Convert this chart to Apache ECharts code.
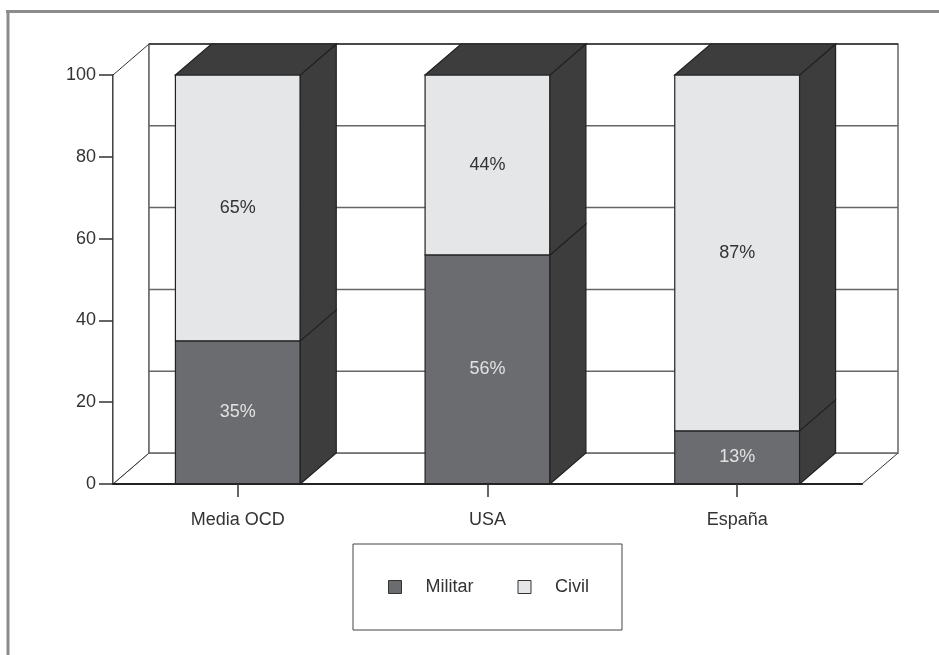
<!DOCTYPE html>
<html>
<head>
<meta charset="utf-8">
<script src="https://cdn.jsdelivr.net/npm/echarts@6/dist/echarts.min.js"></script>
<style>
  html, body { margin: 0; padding: 0; background: #fff; }
  #chart { width: 939px; height: 655px; }
</style>
</head>
<body>
<div id="chart"></div>
<script>
// datos
var categories = ['Media OCD', 'USA', 'España'];
var militar = [35, 56, 13];
var civil = [65, 44, 87];
var seriesNames = ['Militar', 'Civil'];
var yTicks = [0, 20, 40, 60, 80, 100];

// profundidad del efecto 3D (px)
var DX = 36, DY = -31;
var FONT = '"Liberation Sans", Arial, sans-serif';

var chart = echarts.init(document.getElementById('chart'));

// paredes, suelo y lineas de la cuadricula del fondo
function renderWalls(params, api) {
  var cs = params.coordSys;
  var x0 = cs.x, x1 = cs.x + cs.width;
  var yb = api.coord([0, yTicks[0]])[1];
  var yt = api.coord([0, yTicks[yTicks.length - 1]])[1];
  var wall = { fill: '#fff', stroke: '#333', lineWidth: 1 };
  var children = [
    { type: 'polygon', shape: { points: [[x0, yb], [x1, yb], [x1 + DX, yb + DY], [x0 + DX, yb + DY]] }, style: wall },
    { type: 'polygon', shape: { points: [[x0, yt], [x0 + DX, yt + DY], [x0 + DX, yb + DY], [x0, yb]] }, style: wall },
    { type: 'rect', shape: { x: x0 + DX, y: yt + DY, width: cs.width, height: yb - yt }, style: { fill: '#fff', stroke: '#666', lineWidth: 1.5 } }
  ];
  for (var k = 1; k < yTicks.length - 1; k++) {
    var y = api.coord([0, yTicks[k]])[1] + DY;
    children.push({ type: 'line', shape: { x1: x0 + DX, y1: y, x2: x1 + DX, y2: y }, style: { stroke: '#666', lineWidth: 1.5 } });
  }
  // borde superior del fondo
  children.push({ type: 'line', shape: { x1: x0 + DX, y1: yt + DY, x2: x1 + DX, y2: yt + DY }, style: { stroke: '#333', lineWidth: 1.5 } });
  return { type: 'group', children: children };
}

// un tramo de barra apilada en 3D
function makeRenderer(frontColor, textColor, drawTop) {
  return function (params, api) {
    var i = api.value(0);
    var bw = api.size([1, 0])[0] * 0.5;
    var xc = api.coord([i, 0])[0];
    var xl = xc - bw / 2, xr = xc + bw / 2;
    var ya = api.coord([i, api.value(1)])[1];
    var yb = api.coord([i, api.value(2)])[1];
    var edge = '#222';
    var children = [
      { type: 'rect', shape: { x: xl, y: yb, width: bw, height: ya - yb }, style: { fill: frontColor, stroke: edge, lineWidth: 1.2 } },
      { type: 'polygon', shape: { points: [[xr, ya], [xr + DX, ya + DY], [xr + DX, yb + DY], [xr, yb]] }, style: { fill: '#3d3d3d', stroke: edge, lineWidth: 1.2 } }
    ];
    if (drawTop) {
      children.push({ type: 'polygon', shape: { points: [[xl, yb], [xr, yb], [xr + DX, yb + DY], [xl + DX, yb + DY]] }, style: { fill: '#3d3d3d', stroke: edge, lineWidth: 1.2 } });
    }
    children.push({
      type: 'text',
      style: {
        x: xc, y: (ya + yb) / 2,
        text: (api.value(2) - api.value(1)) + '%',
        fill: textColor, font: '18px ' + FONT,
        align: 'center', verticalAlign: 'middle'
      }
    });
    return { type: 'group', children: children };
  };
}

var militarData = [], civilData = [];
for (var i = 0; i < categories.length; i++) {
  militarData.push([i, 0, militar[i]]);
  civilData.push([i, militar[i], militar[i] + civil[i]]);
}

var option = {
  animation: false,
  backgroundColor: '#fff',
  textStyle: { fontFamily: FONT },
  grid: { left: 113, right: 77, top: 75, bottom: 171 },
  legend: {
    data: seriesNames,
    left: 353,
    top: 544,
    width: 269,
    padding: [34, 33, 34, 35],
    borderColor: '#444',
    borderWidth: 1,
    itemWidth: 13,
    itemHeight: 13,
    itemGap: 44,
    icon: 'rect',
    itemStyle: { borderColor: '#333', borderWidth: 1 },
    textStyle: { fontSize: 18, color: '#333', padding: [0, 0, 0, 19] },
    selectedMode: false
  },
  xAxis: {
    type: 'category',
    data: categories,
    z: 10,
    axisLine: { lineStyle: { color: '#222', width: 2 } },
    axisTick: { show: true, alignWithLabel: true, length: 13, lineStyle: { color: '#333', width: 1.5 } },
    axisLabel: { margin: 27, fontSize: 18, color: '#333' },
    splitLine: { show: false }
  },
  yAxis: {
    type: 'value',
    min: 0,
    max: 100,
    interval: 20,
    axisLine: { show: true, lineStyle: { color: '#222', width: 1.5 } },
    axisTick: { show: true, length: 14, lineStyle: { color: '#333', width: 1.5 } },
    axisLabel: { margin: 17, fontSize: 18, color: '#333' },
    splitLine: { show: false }
  },
  graphic: [
    { type: 'line', shape: { x1: 6, y1: 11.5, x2: 939, y2: 11.5 }, style: { stroke: '#8c8c8c', lineWidth: 3 } },
    { type: 'line', shape: { x1: 8, y1: 10, x2: 8, y2: 655 }, style: { stroke: '#8c8c8c', lineWidth: 3 } }
  ],
  series: [
    { type: 'custom', name: 'walls', silent: true, z: 1, renderItem: renderWalls, data: [[0]] },
    { type: 'custom', name: seriesNames[0], z: 2, itemStyle: { color: '#6b6c70' },
      encode: { x: 0, y: [1, 2] }, renderItem: makeRenderer('#6b6c70', '#e2e2e2', false), data: militarData },
    { type: 'custom', name: seriesNames[1], z: 3, itemStyle: { color: '#e5e6e8' },
      encode: { x: 0, y: [1, 2] }, renderItem: makeRenderer('#e5e6e8', '#333', true), data: civilData }
  ]
};
chart.setOption(option);
</script>
</body>
</html>
